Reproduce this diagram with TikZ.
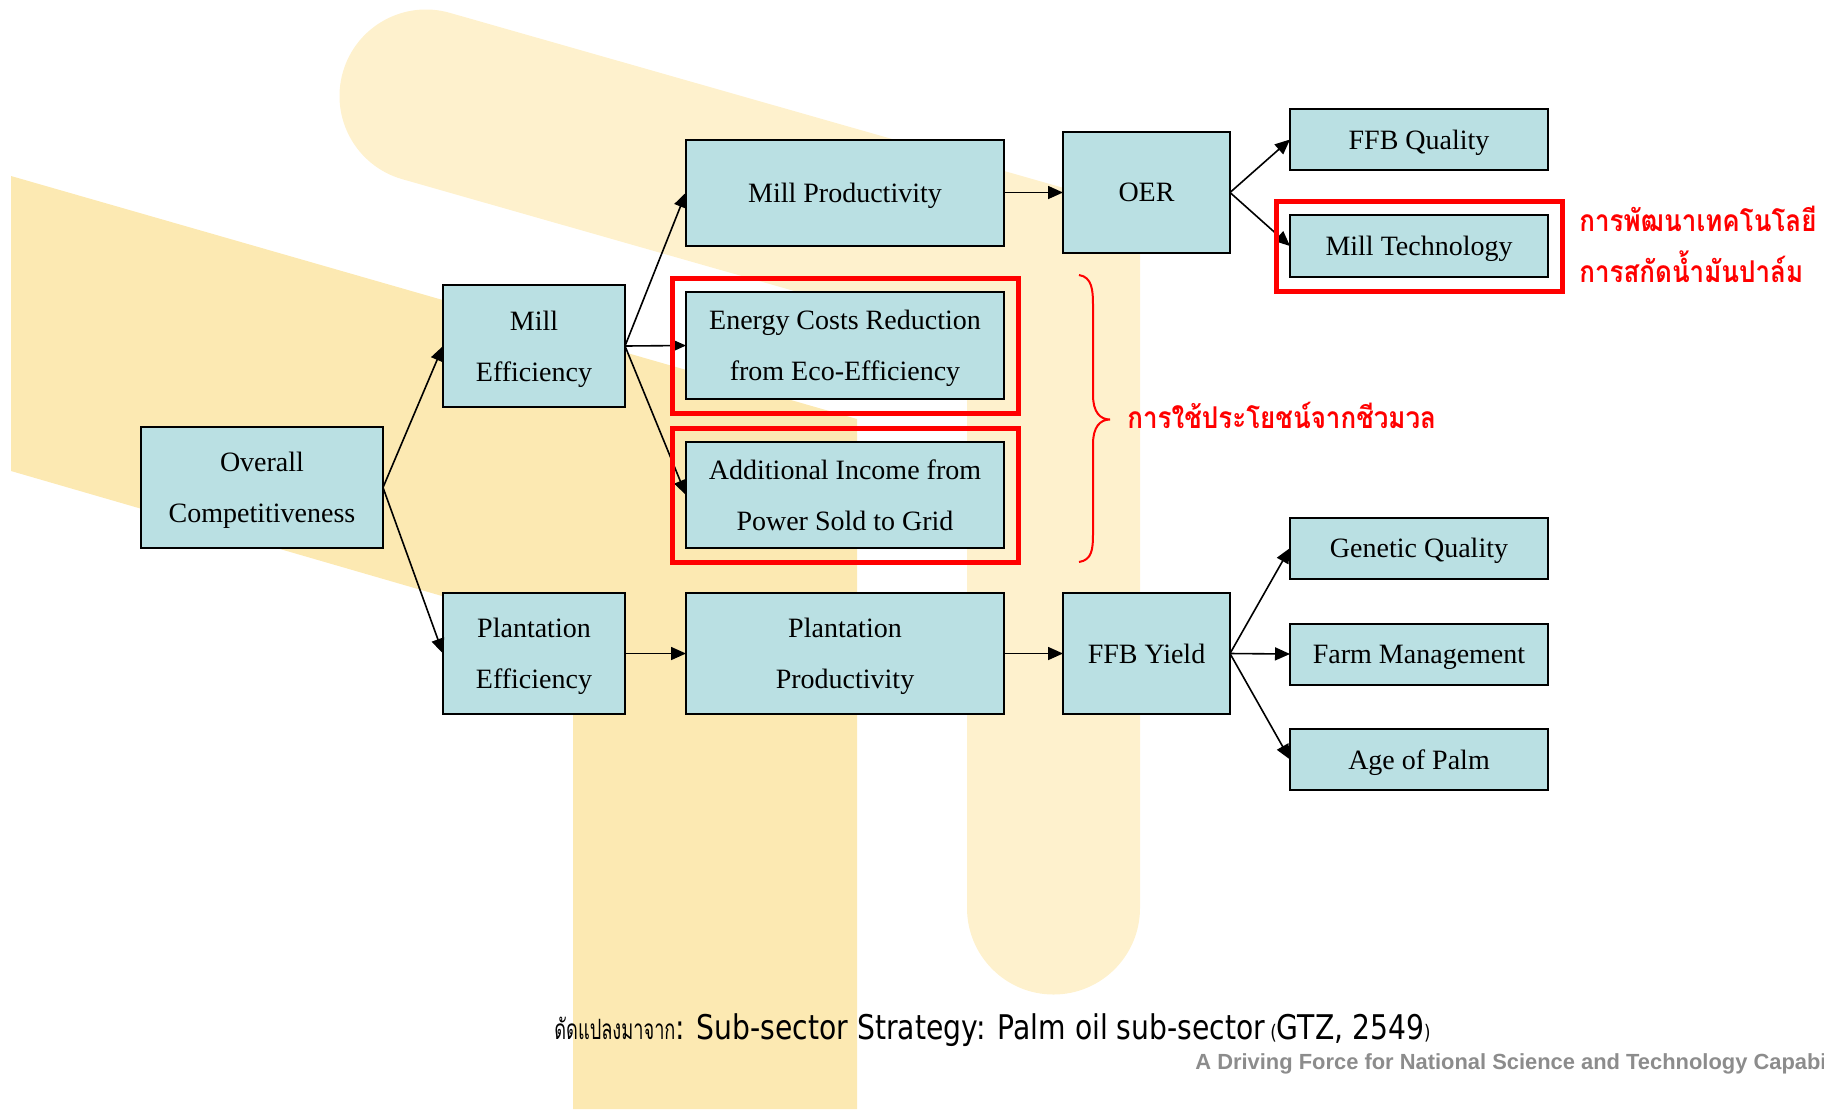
\documentclass[tikz,border=0pt]{standalone}
\usepackage{fontspec}
\setmainfont{Liberation Serif}
\newfontfamily\thaifont[Script=Thai,FakeStretch=0.865]{Loma}
\newfontfamily\thaicapfont[Script=Thai,FakeStretch=0.65]{Loma}
\newfontfamily\capfont[FakeStretch=0.83]{DejaVu Sans}
\newfontfamily\footfont{Liberation Sans}
\usetikzlibrary{arrows.meta,fit}
\definecolor{boxblue}{RGB}{186,224,227}
\definecolor{bandgold}{RGB}{252,233,178}
\definecolor{bandpale}{RGB}{254,241,205}
\definecolor{footgray}{RGB}{140,140,140}
\begin{document}
\begin{tikzpicture}[x=0.5pt,y=-0.5pt,
  box/.style={draw=black, line width=1pt, fill=boxblue, inner sep=0pt, outer sep=0pt,
    align=center, text depth=0pt, font=\fontsize{14}{25.5}\selectfont},
  redframe/.style={draw=red, line width=2.5pt, inner sep=7pt, outer sep=0pt},
  arr/.style={line width=0.8pt, -{Triangle[length=7.5pt,width=6.5pt]}},
  thai/.style={text=red, inner sep=0pt, font=\thaifont\bfseries\fontsize{15}{17}\selectfont}
]
\useasboundingbox (0,0) rectangle (1824,1109);
\clip (0,0) rectangle (1824,1109);

% watermark bands behind the chart
\fill[bandgold] (11,176) -- (857,419) -- (857,1109) -- (573,1109) -- (573,634) -- (11,471) -- cycle;
\draw[bandpale, line width=86.5pt, line cap=round, line join=miter]
  (426,96) -- (1053.5,275) -- (1053.5,908);

% first level
\node[box, minimum width=121pt, minimum height=60.5pt] (ov) at (262,487.5) {Overall\\Competitiveness};
% second level
\node[box, minimum width=91pt, minimum height=61pt] (me) at (534,346) {Mill\\Efficiency};
\node[box, minimum width=91pt, minimum height=60.5pt] (pe) at (534,653.5) {Plantation\\Efficiency};
% third level
\node[box, minimum width=159pt, minimum height=53pt] (mp) at (845,192.5) {Mill Productivity};
\node[box, minimum width=159pt, minimum height=53.5pt] (ec) at (845,345.5) {Energy Costs Reduction\\from Eco-Efficiency};
\node[box, minimum width=159pt, minimum height=53pt] (ai) at (845,495) {Additional Income from\\Power Sold to Grid};
\node[box, minimum width=159pt, minimum height=60.5pt] (pp) at (845,653.5) {Plantation\\Productivity};
% fourth level
\node[box, minimum width=83.5pt, minimum height=60.5pt] (oer) at (1146.5,192.5) {OER};
\node[box, minimum width=83.5pt, minimum height=60.5pt] (ffby) at (1146.5,653.5) {FFB Yield};
% drivers
\node[box, minimum width=129pt, minimum height=30.5pt] (fq) at (1419,139.5) {FFB Quality};
\node[box, minimum width=129pt, minimum height=31pt] (mt) at (1419,246) {Mill Technology};
\node[box, minimum width=129pt, minimum height=30.5pt] (gq) at (1419,548) {Genetic Quality};
\node[box, minimum width=129pt, minimum height=30.5pt] (fm) at (1419,654) {Farm Management};
\node[box, minimum width=129pt, minimum height=30.5pt] (ap) at (1419,759.5) {Age of Palm};

% connectors
\draw[arr] (ov.east) -- (me.west);
\draw[arr] (ov.east) -- (pe.west);
\draw[arr] (me.east) -- (mp.west);
\draw[arr] (me.east) -- (ec.west);
\draw[arr] (me.east) -- (ai.west);
\draw[arr] (pe.east) -- (pp.west);
\draw[arr] (mp.east) -- (oer.west);
\draw[arr] (pp.east) -- (ffby.west);
\draw[arr] (oer.east) -- (fq.west);
\draw[arr] (oer.east) -- (mt.west);
\draw[arr] (ffby.east) -- (gq.west);
\draw[arr] (ffby.east) -- (fm.west);
\draw[arr] (ffby.east) -- (ap.west);

% highlighted items
\node[redframe, fit=(mt)] (mtframe) {};
\node[redframe, fit=(ec)] (ecframe) {};
\node[redframe, fit=(ai)] (aiframe) {};

\node[thai, anchor=base west] (mtnote1) at (1579,231) {การพัฒนาเทคโนโลยี};
\node[thai, anchor=base west] (mtnote2) at (1579,282) {การสกัดน้ำมันปาล์ม};

% brace grouping the two energy items
\coordinate (bracetop) at (1079,275);
\coordinate (bracetip) at (1110,419.5);
\coordinate (bracebot) at (1079,562);
\draw[red, line width=1pt]
  (bracetop) .. controls (1092,277) and (1093,290) .. (1093,305)
  -- (1093,395) .. controls (1093,412) and (1100,419.5) .. (bracetip)
  .. controls (1100,419.5) and (1093,427) .. (1093,444)
  -- (1093,534) .. controls (1093,549) and (1092,560) .. (bracebot);
\node[thai, anchor=base west] (bionote) at (1127,428) {การใช้ประโยชน์จากชีวมวล};

% source line and footer
\node[anchor=base west, inner sep=0pt] (source) at (554,1039)
  {{\thaicapfont\fontsize{14}{16}\selectfont ดัดแปลงมาจาก}{\capfont\fontsize{17}{19}\selectfont: Sub-sector Strategy: Palm oil sub-sector}{\capfont\fontsize{10}{11}\selectfont\ (}{\capfont\fontsize{17}{19}\selectfont GTZ, 2549}{\capfont\fontsize{10}{11}\selectfont)}};
\node[anchor=base west, inner sep=0pt, text=footgray, font=\footfont\bfseries\fontsize{10.95}{12}\selectfont]
  (footer) at (1195,1069) {A Driving Force for National Science and Technology Capabi};
\end{tikzpicture}
\end{document}
